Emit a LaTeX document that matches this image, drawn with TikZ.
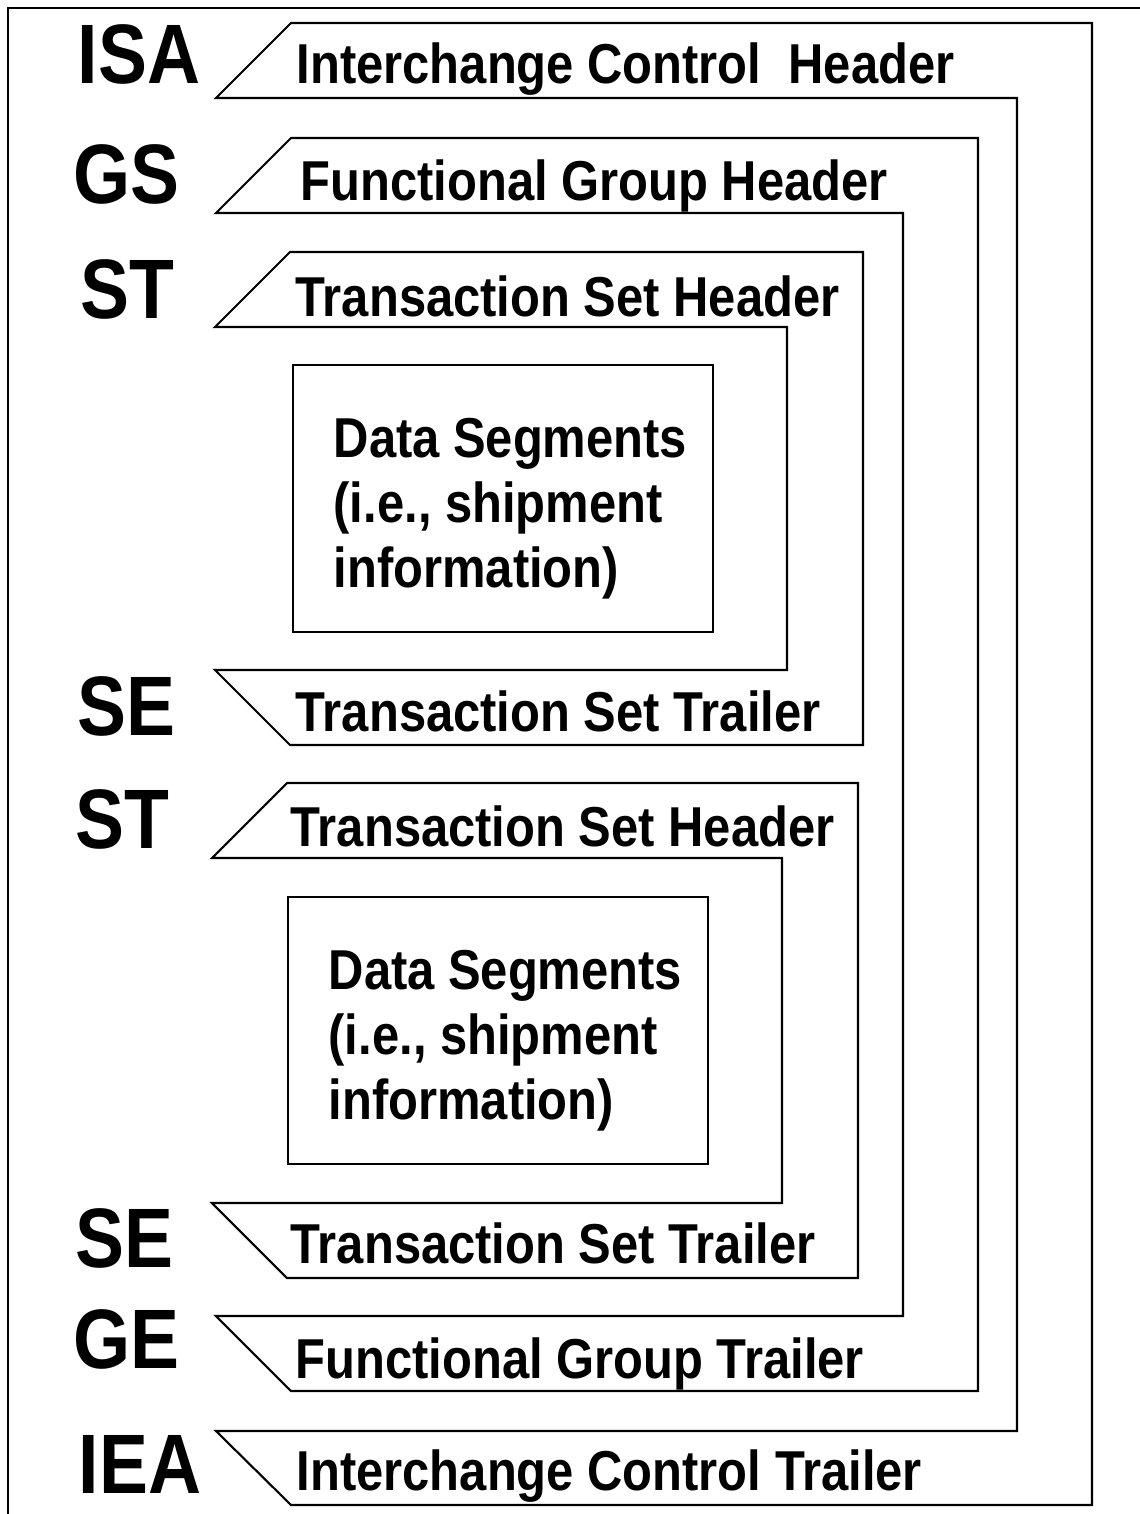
\documentclass[tikz,border=0pt]{standalone}
\usepackage{fontspec}
\setmainfont[FakeStretch=0.87]{Liberation Sans}
\usepackage{tikz}

\tikzset{
    frame/.style={line width=0.6pt, line join=miter},
    segtag/.style={anchor=base west, inner sep=0, font=\fontsize{24}{28}\selectfont\bfseries},
    segname/.style={anchor=base west, inner sep=0, font=\fontsize{16}{19}\selectfont\bfseries},
    databox/.style={draw, line width=0.6pt, minimum width=42mm, minimum height=26.7mm, inner sep=0},
    datatext/.style={anchor=north west, inner sep=0, align=left, font=\fontsize{16}{18.4}\selectfont\bfseries}
}

\begin{document}
\begin{tikzpicture}[x=0.1mm, y=-0.1mm]
    \useasboundingbox (0,0) rectangle (1140,1514);

    % page frame
    \draw[frame] (8,1514) -- (8,8) -- (1140,8);

    % interchange envelope
    \draw[frame] (291,23) -- (1092,23) -- (1092,1505) -- (291,1505) -- (216,1431)
        -- (1017,1431) -- (1017,98) -- (216,98) -- cycle;

    % functional group
    \draw[frame] (291,138) -- (978,138) -- (978,1391) -- (291,1391) -- (216,1316)
        -- (903,1316) -- (903,213) -- (216,213) -- cycle;

    % transaction set 1
    \draw[frame] (290,252) -- (863,252) -- (863,745) -- (290,745) -- (215,670)
        -- (787,670) -- (787,327) -- (215,327) -- cycle;

    % transaction set 2
    \draw[frame] (287,783) -- (858,783) -- (858,1278) -- (287,1278) -- (212,1203)
        -- (782,1203) -- (782,858) -- (212,858) -- cycle;

    % data segments
    \node[databox] (box1) at (503,498.5) {};
    \node[datatext] (data1) at (333,418) {Data Segments\\(i.e., shipment\\information)};
    \node[databox] (box2) at (498,1030.5) {};
    \node[datatext] (data2) at (328,950) {Data Segments\\(i.e., shipment\\information)};

    % segment ids
    \node[segtag] (isa) at (77,83) {ISA};
    \node[segtag] (gs) at (73,203) {GS};
    \node[segtag] (st1) at (80,318) {ST};
    \node[segtag] (se1) at (77,735) {SE};
    \node[segtag] (st2) at (75,848) {ST};
    \node[segtag] (se2) at (75,1267) {SE};
    \node[segtag] (ge) at (73,1368) {GE};
    \node[segtag] (iea) at (78,1493) {IEA};

    % segment names
    \node[segname] (isaName) at (296,83) {Interchange Control\ \ Header};
    \node[segname] (gsName) at (300,200) {Functional Group Header};
    \node[segname] (st1Name) at (295,316) {Transaction Set Header};
    \node[segname] (se1Name) at (295,731) {Transaction Set Trailer};
    \node[segname] (st2Name) at (290,846) {Transaction Set Header};
    \node[segname] (se2Name) at (290,1263) {Transaction Set Trailer};
    \node[segname] (geName) at (295,1378) {Functional Group Trailer};
    \node[segname] (ieaName) at (296,1490) {Interchange Control Trailer};
\end{tikzpicture}
\end{document}
